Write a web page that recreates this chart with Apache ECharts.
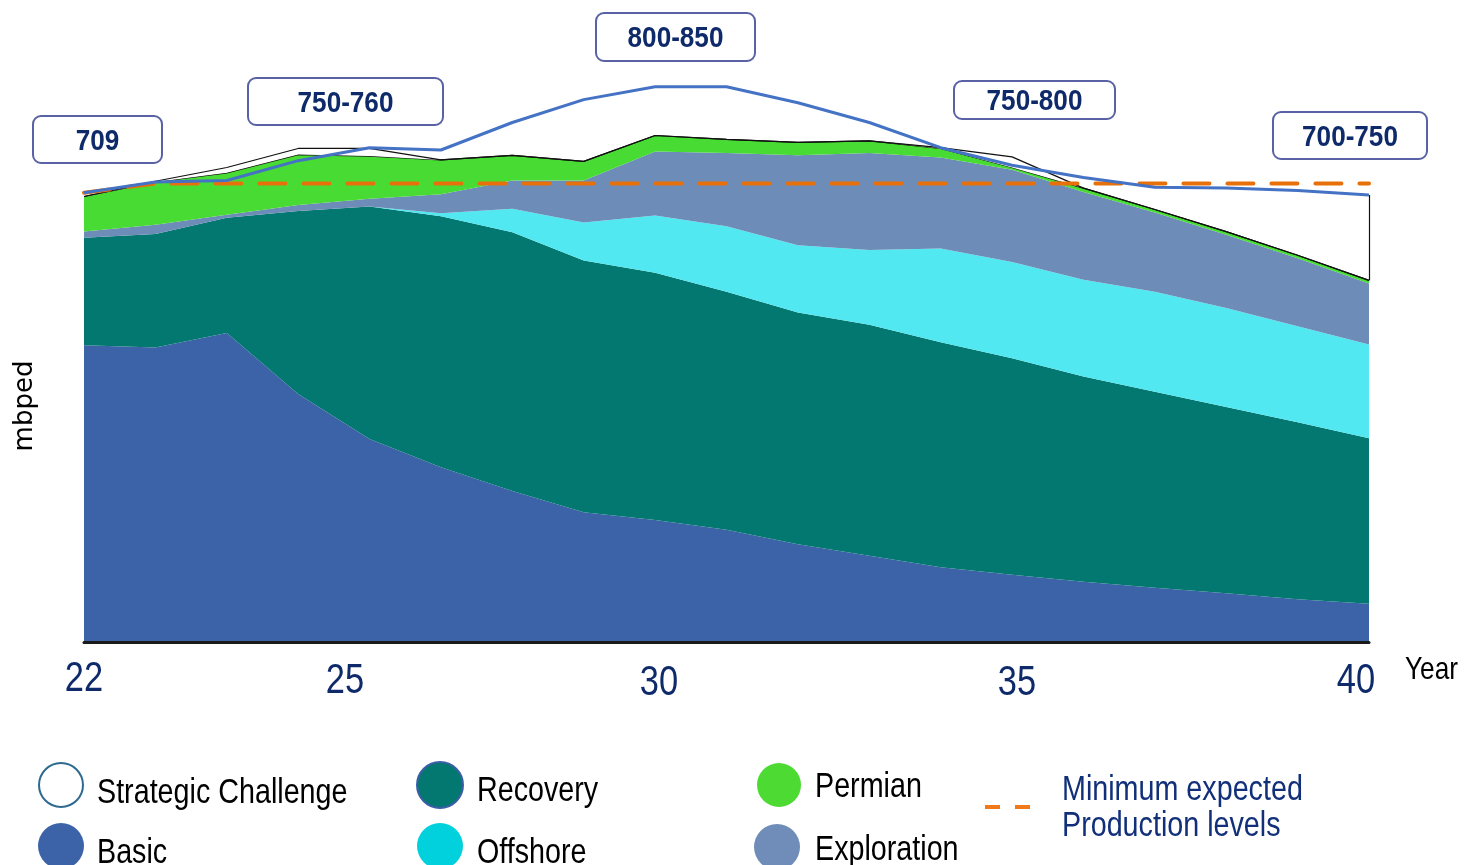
<!DOCTYPE html>
<html>
<head>
<meta charset="utf-8">
<title>Production outlook</title>
<script src="https://cdn.jsdelivr.net/npm/echarts@6/dist/echarts.min.js"></script>
<style>
  html, body { margin: 0; padding: 0; background: #ffffff; }
  #chart { width: 1465px; height: 865px; }
</style>
</head>
<body>
<div id="chart"></div>
<script>
// Production outlook 2022-2040, mbped, stacked by source
const years = ['2022','2023','2024','2025','2026','2027','2028','2029','2030','2031',
               '2032','2033','2034','2035','2036','2037','2038','2039','2040'];
const basic       = [509,506,525,445,386,349,318,290,280,267,248,233,218,208,199,191,184,176,170];
const recovery    = [141,149,151,240,305,329,339,330,324,312,304,303,295,284,269,257,244,232,217];
const offshore    = [0,0,0,0,0,4,31,50,75,86,88,98,123,126,127,131,130,126,123];
const exploration = [8,12,4,8,10,25,37,55,84,96,118,127,119,121,115,104,96,89,80];
const permian     = [46,56,55,66,56,45,33,25,21,18,17,16,12,3,5,4,4,4,4];
const strategic   = [0,1,7,8,10,0,0,0,0,0,0,0,1,14,0,0,0,0,0];
const outlook     = [709,723,725,751,768,765,801,831,848,848,827,801,768,745,729,716,715,712,706];
const minimumLevel = [709,721,721,721,721,721,721,721,721,721,721,721,721,721,721,721,721,721,721];

// axis tick labels and range callouts
const yearTicks = ['22','25','30','35','40'];
const rangeLabels = ['709','750-760','800-850','750-800','700-750'];
const legendNames = ['Strategic Challenge','Basic','Recovery','Offshore','Permian','Exploration'];

const SANS = '"Liberation Sans", Arial, sans-serif';
const NAVY = '#0E2A6A';
const NARROW_SCALE = 0.82;   // condensed lettering

const COLORS = {
  'Basic': '#3C63A8',
  'Recovery': '#037870',
  'Offshore': '#52E8F2',
  'Exploration': '#6D8CB7',
  'Permian': '#48DB33',
  'Strategic Challenge': '#ffffff'
};

const chart = echarts.init(document.getElementById('chart'), null, { renderer: 'canvas' });

// stacked top at the last year, used for the closing edge of the outlook band
const last = years.length - 1;
const stackTopLast = basic[last] + recovery[last] + offshore[last] + exploration[last] + permian[last] + strategic[last];

function areaSeries(name, data, z, line) {
  return {
    name: name,
    type: 'line',
    stack: 'total',
    data: data,
    symbol: 'none',
    smooth: false,
    z: z,
    silent: true,
    lineStyle: line || { width: 0 },
    areaStyle: { color: COLORS[name], opacity: 1 },
    itemStyle: { color: COLORS[name] },
    emphasis: { disabled: true }
  };
}

function narrowText(txt, x, y, size, color, align, extra) {
  return Object.assign({
    type: 'text', x: x, y: y, scaleX: NARROW_SCALE, silent: true, z: 50,
    style: { text: txt, fill: color, font: size + 'px ' + SANS, align: align || 'left', verticalAlign: 'middle' }
  }, extra || {});
}

const graphics = [];

// year tick labels under the axis
const tickX = [84, 345, 659, 1017, 1356];
const tickY = [679, 681, 683, 683, 681];
yearTicks.forEach((t, i) => graphics.push(narrowText(t, tickX[i], tickY[i], 42, NAVY, 'center')));
graphics.push(narrowText('Year', 1405, 670, 32, '#000000', 'left'));

// vertical unit label
graphics.push({
  type: 'text', x: 25, y: 406, rotation: Math.PI / 2, silent: true,
  style: { text: 'mbped', fill: '#000000', font: '26px "DejaVu Sans", sans-serif', align: 'center', verticalAlign: 'middle' }
});

// range callout boxes
const boxes = [
  { x: 33,   y: 116, w: 129, h: 47 },
  { x: 248,  y: 78,  w: 195, h: 47 },
  { x: 596,  y: 13,  w: 159, h: 48 },
  { x: 954,  y: 81,  w: 161, h: 38 },
  { x: 1273, y: 112, w: 154, h: 47 }
];
rangeLabels.forEach((lab, i) => {
  const b = boxes[i];
  graphics.push({
    type: 'rect', silent: true, z: 100,
    shape: { x: b.x, y: b.y, width: b.w, height: b.h, r: 8 },
    style: { fill: '#ffffff', stroke: '#5A62A6', lineWidth: 2 }
  });
  graphics.push({
    type: 'text', silent: true, z: 101, scaleX: 0.9,
    x: b.x + b.w / 2, y: b.y + b.h / 2 + 2,
    style: { text: lab, fill: NAVY, font: 'bold 29px ' + SANS, align: 'center', verticalAlign: 'middle' }
  });
});

// legend: swatch circles with labels
const legendSwatch = {
  'Strategic Challenge': { cx: 61,  cy: 785, r: 22, fill: '#ffffff', stroke: '#2E6A90', tx: 97,  ty: 793 },
  'Basic':               { cx: 61,  cy: 846, r: 23, fill: '#3C63A8', stroke: null,      tx: 97,  ty: 853 },
  'Recovery':            { cx: 440, cy: 785, r: 23, fill: '#037870', stroke: '#3B5EA6', tx: 477, ty: 791 },
  'Offshore':            { cx: 440, cy: 846, r: 23, fill: '#00D1DC', stroke: null,      tx: 477, ty: 853 },
  'Permian':             { cx: 779, cy: 785, r: 22, fill: '#4CDA33', stroke: null,      tx: 815, ty: 787 },
  'Exploration':         { cx: 777, cy: 847, r: 23, fill: '#6F8DB8', stroke: null,      tx: 815, ty: 850 }
};
legendNames.forEach(name => {
  const s = legendSwatch[name];
  graphics.push({
    type: 'circle', silent: true, z: 50,
    shape: { cx: s.cx, cy: s.cy, r: s.r },
    style: { fill: s.fill, stroke: s.stroke || null, lineWidth: s.stroke ? 2 : 0 }
  });
  graphics.push(narrowText(name, s.tx, s.ty, 35, '#000000', 'left'));
});
// dashed swatch for the minimum level line
graphics.push({ type: 'line', silent: true, z: 50, shape: { x1: 985, y1: 807, x2: 1000, y2: 807 },
  style: { stroke: '#F07A1A', lineWidth: 4 } });
graphics.push({ type: 'line', silent: true, z: 50, shape: { x1: 1015, y1: 807, x2: 1030, y2: 807 },
  style: { stroke: '#F07A1A', lineWidth: 4 } });
graphics.push(narrowText('Minimum expected', 1062, 790, 35, '#12307A', 'left'));
graphics.push(narrowText('Production levels', 1062, 826, 35, '#12307A', 'left'));

const option = {
  backgroundColor: '#ffffff',
  animation: false,
  grid: { left: 84, right: 96, top: 47, bottom: 223, containLabel: false, outerBoundsMode: 'none' },
  xAxis: {
    type: 'category',
    data: years,
    boundaryGap: false,
    axisLine: { show: true, onZero: false, lineStyle: { color: '#1a1a1a', width: 3 } },
    axisTick: { show: false },
    axisLabel: { show: false },
    splitLine: { show: false },
    z: 10
  },
  yAxis: {
    type: 'value',
    min: 120,
    max: 900,
    axisLine: { show: false },
    axisTick: { show: false },
    axisLabel: { show: false },
    splitLine: { show: false }
  },
  series: [
    areaSeries('Basic', basic, 2),
    areaSeries('Recovery', recovery, 3),
    areaSeries('Offshore', offshore, 4),
    areaSeries('Exploration', exploration, 5),
    areaSeries('Permian', permian, 6, { width: 1.2, color: '#111111' }),
    Object.assign(areaSeries('Strategic Challenge', strategic, 7, { width: 1.2, color: '#111111' }), {
      markLine: {
        silent: true, symbol: 'none', label: { show: false },
        lineStyle: { color: '#111111', width: 1.2, type: 'solid' },
        data: [[{ coord: [years[last], stackTopLast] }, { coord: [years[last], outlook[last]] }]]
      }
    }),
    {
      name: 'Minimum expected Production levels',
      type: 'line',
      data: minimumLevel,
      symbol: 'none',
      z: 8,
      silent: true,
      lineStyle: { color: '#E8700A', width: 4, type: [26, 18], cap: 'round' },
      itemStyle: { color: '#E8700A' }
    },
    {
      name: 'Outlook',
      type: 'line',
      data: outlook,
      symbol: 'none',
      z: 9,
      silent: true,
      lineStyle: { color: '#4472C4', width: 3 },
      itemStyle: { color: '#4472C4' }
    }
  ],
  graphic: graphics
};

chart.setOption(option);
</script>
</body>
</html>
